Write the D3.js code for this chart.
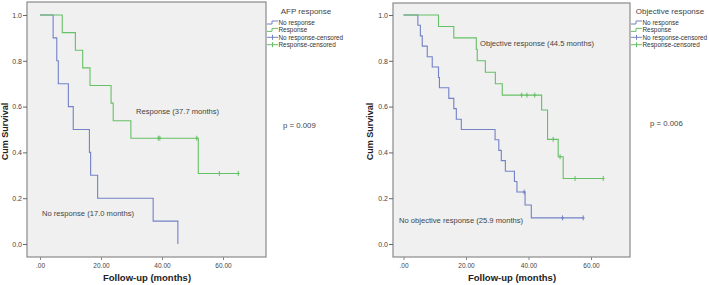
<!DOCTYPE html>
<html>
<head>
<meta charset="utf-8">
<script src="https://cdn.jsdelivr.net/npm/d3@7"></script>
<style>
  body { margin: 0; background: #fff; }
  svg { display: block; font-family: "Liberation Sans", Arial, sans-serif; }
</style>
</head>
<body>
<svg id="chart" width="709" height="285"></svg>
<script>
// --- data (months, cumulative survival) ---
const xTicks = [0, 20, 40, 60];
const yTicks = [0, 0.2, 0.4, 0.6, 0.8, 1.0];

const afpNoTimes = [4.3, 5.5, 6.0, 9.3, 10.9, 16.2, 16.6, 18.9, 37.1, 45.2];
const afpNoSurv = [0.9, 0.8, 0.7, 0.6, 0.5, 0.4, 0.3, 0.2, 0.1, 0.0];
const afpNoCensored = [];
const afpRespTimes = [7.3, 11.6, 14.0, 16.4, 23.3, 24.0, 29.8, 51.9];
const afpRespSurv = [0.923, 0.846, 0.769, 0.692, 0.615, 0.538, 0.462, 0.308];
const afpRespCensored = [38.8, 39.3, 51.4, 58.8, 65.0];

const objNoTimes = [4.6, 5.4, 6.0, 7.6, 9.2, 11.2, 11.5, 14.5, 16.1, 16.9, 18.5,
  29.3, 30.5, 31.3, 32.6, 35.5, 36.3, 38.9, 40.9];
const objNoSurv = [0.955, 0.909, 0.864, 0.818, 0.773, 0.727, 0.682, 0.636, 0.591, 0.545, 0.5,
  0.455, 0.409, 0.364, 0.318, 0.273, 0.227, 0.170, 0.114];
const objNoCensored = [38.6, 50.9, 57.5];
const objRespTimes = [11.2, 16.1, 23.3, 23.6, 26.2, 29.4, 31.6, 44.2, 46.1, 49.5, 51.1];
const objRespSurv = [0.95, 0.90, 0.85, 0.80, 0.75, 0.70, 0.65, 0.585, 0.457, 0.381, 0.286];
const objRespCensored = [37.8, 39.5, 42.0, 47.9, 50.1, 54.9, 63.9];

const legendLabels = ["No response", "Response", "No response-censored", "Response-censored"];

const blue = "#7381c6";
const green = "#66c066";
const textColor = "#444";

const panels = [
  {
    frame: { x0: 27, y0: 2, x1: 266, y1: 257 }, xRange: [40, 223],
    legendTitle: "AFP response", legendX: 267, legendTitleX: 306,
    pText: "p = 0.009", pX: 283, pY: 128,
    curves: [
      { times: afpNoTimes, surv: afpNoSurv, cens: afpNoCensored, color: blue },
      { times: afpRespTimes, surv: afpRespSurv, cens: afpRespCensored, color: green }
    ],
    notes: [
      { text: "Response (37.7 months)", x: 136, y: 114 },
      { text: "No response (17.0 months)", x: 42, y: 216 }
    ],
    titleX: 147, ylabX: 8
  },
  {
    frame: { x0: 393, y0: 3, x1: 630, y1: 257 }, xRange: [403.5, 591],
    legendTitle: "Objective response", legendX: 631, legendTitleX: 670,
    pText: "p = 0.006", pX: 650, pY: 126,
    curves: [
      { times: objNoTimes, surv: objNoSurv, cens: objNoCensored, color: blue },
      { times: objRespTimes, surv: objRespSurv, cens: objRespCensored, color: green }
    ],
    notes: [
      { text: "Objective response (44.5 months)", x: 480, y: 46 },
      { text: "No objective response (25.9 months)", x: 399, y: 223 }
    ],
    titleX: 512, ylabX: 373
  }
];

const svg = d3.select("#chart");
const fmtX = d => d === 0 ? ".00" : d3.format(".2f")(d);
const fmtY = d3.format(".1f");

function survAt(times, surv, t) {
  let s = 1;
  times.forEach((tt, i) => { if (tt <= t) s = surv[i]; });
  return s;
}

panels.forEach(p => {
  const g = svg.append("g");
  const x = d3.scaleLinear().domain([0, 60]).range(p.xRange);
  const y = d3.scaleLinear().domain([0, 1]).range([244, 15]);
  const f = p.frame;

  g.append("rect")
    .attr("x", f.x0).attr("y", f.y0)
    .attr("width", f.x1 - f.x0).attr("height", f.y1 - f.y0)
    .attr("fill", "#f0f0f0").attr("stroke", "#8a8a8a").attr("stroke-width", 1.2);

  // y axis
  const yAxis = d3.axisLeft(y).tickValues(yTicks).tickFormat(fmtY).tickSize(4).tickPadding(1);
  g.append("g").attr("transform", `translate(${f.x0},0)`).call(yAxis)
    .call(a => a.select(".domain").remove())
    .call(a => a.selectAll("line").attr("stroke", "#666"))
    .call(a => a.selectAll("text").attr("fill", textColor).attr("font-size", 7).attr("font-family", null));

  // x axis
  const xAxis = d3.axisBottom(x).tickValues(xTicks).tickFormat(fmtX).tickSize(3).tickPadding(3);
  g.append("g").attr("transform", `translate(0,${f.y1})`).call(xAxis)
    .call(a => a.select(".domain").remove())
    .call(a => a.selectAll("line").attr("stroke", "#888"))
    .call(a => a.selectAll("text").attr("fill", textColor).attr("font-size", 6.5).attr("font-family", null));

  g.append("text")
    .attr("x", p.titleX).attr("y", 281)
    .attr("text-anchor", "middle").attr("font-weight", "bold")
    .attr("font-size", 9.5).attr("fill", "#222")
    .text("Follow-up (months)");

  g.append("text")
    .attr("transform", `translate(${p.ylabX},${(y(0) + y(1)) / 2 + 2}) rotate(-90)`)
    .attr("text-anchor", "middle").attr("font-weight", "bold")
    .attr("font-size", 9).attr("fill", "#222")
    .text("Cum Survival");

  const line = d3.line().x(d => x(d[0])).y(d => y(d[1])).curve(d3.curveStepAfter);

  p.curves.forEach(c => {
    const pts = [[0, 1]];
    c.times.forEach((t, i) => pts.push([t, c.surv[i]]));
    const end = d3.max([d3.max(c.times), d3.max(c.cens) || 0]);
    pts.push([end, survAt(c.times, c.surv, end)]);
    g.append("path").attr("d", line(pts))
      .attr("fill", "none").attr("stroke", c.color).attr("stroke-width", 1.1);

    g.selectAll(null).data(c.cens).join("path")
      .attr("d", t => {
        const cx = x(t), cy = y(survAt(c.times, c.surv, t));
        return `M${cx},${cy - 2.5}V${cy + 2.5}M${cx - 1.5},${cy}H${cx + 1.5}`;
      })
      .attr("stroke", c.color).attr("stroke-width", 1);
  });

  p.notes.forEach(n => {
    g.append("text").attr("x", n.x).attr("y", n.y)
      .attr("font-size", 7.6).attr("fill", textColor).text(n.text);
  });

  g.append("text").attr("x", p.pX).attr("y", p.pY)
    .attr("font-size", 7.8).attr("fill", textColor).text(p.pText);

  // legend
  const lg = g.append("g").attr("transform", `translate(${p.legendX},0)`);
  lg.append("text").attr("x", p.legendTitleX - p.legendX).attr("y", 14)
    .attr("text-anchor", "middle").attr("font-size", 8).attr("fill", textColor)
    .text(p.legendTitle);
  const colors = [blue, green, blue, green];
  legendLabels.forEach((lab, i) => {
    const ly = 22.5 + i * 7.4;
    const sym = i < 2
      ? `M0,${ly + 1.5}H5V${ly - 1.5}H11`
      : `M0,${ly}H11M5.5,${ly - 2.5}V${ly + 2.5}`;
    lg.append("path").attr("d", sym).attr("fill", "none")
      .attr("stroke", colors[i]).attr("stroke-width", 1);
    lg.append("text").attr("x", 11.5).attr("y", ly + 2.5)
      .attr("font-size", 6.4).attr("fill", "#333").text(lab);
  });
});
</script>
</body>
</html>
